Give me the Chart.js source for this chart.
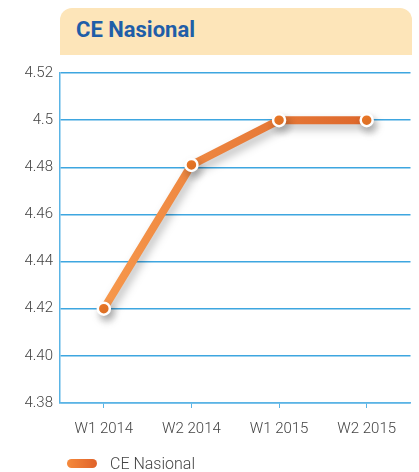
<!DOCTYPE html>
<html>
<head>
<meta charset="utf-8">
<script src="https://cdn.jsdelivr.net/npm/chart.js@4/dist/chart.umd.min.js"></script>
<style>
  body { margin: 0; background: #fff; font-family: Roboto, sans-serif; }
  .wrap { position: relative; width: 419px; height: 472px; }
  .title-box {
    position: absolute; left: 60px; top: 8px; width: 352px; height: 47px;
    background: #fde5b9; border-radius: 12px 12px 0 0;
  }
  .title-box span {
    position: absolute; left: 16px; top: 9px;
    font: bold 22px Roboto, sans-serif; color: #1f5ea8;
  }
  .legend { position: absolute; left: 67px; top: 453px; height: 20px; display: flex; align-items: center; }
  .legend .pill { width: 30px; height: 9px; border-radius: 5px; background: linear-gradient(90deg, #f58a3c, #e0622a); }
  .legend .txt { margin-left: 13px; font: 300 16px Roboto, sans-serif; color: #444; }
  canvas { position: absolute; left: 0; top: 0; }
</style>
</head>
<body>
<div class="wrap">
  <canvas id="ceChart" width="419" height="472"></canvas>
  <div class="title-box"><span>CE Nasional</span></div>
  <div class="legend"><div class="pill"></div><div class="txt">CE Nasional</div></div>
</div>
<script>
  const labels = ["W1 2014", "W2 2014", "W1 2015", "W2 2015"];
  const values = [4.42, 4.481, 4.5, 4.5];

  // soft shadow under the line
  const shadowPlugin = {
    id: "lineShadow",
    beforeDatasetDraw(chart) {
      const ctx = chart.ctx;
      ctx.save();
      ctx.shadowColor = "rgba(0,0,0,0.25)";
      ctx.shadowBlur = 8;
      ctx.shadowOffsetX = 3;
      ctx.shadowOffsetY = 5;
    },
    afterDatasetDraw(chart) {
      chart.ctx.restore();
    },
  };

  const ctx = document.getElementById("ceChart").getContext("2d");
  const grad = ctx.createLinearGradient(100, 0, 380, 0);
  grad.addColorStop(0, "#f7984c");
  grad.addColorStop(1, "#dc652a");

  new Chart(ctx, {
    type: "line",
    data: {
      labels: labels,
      datasets: [
        {
          label: "CE Nasional",
          data: values,
          borderColor: grad,
          borderWidth: 8,
          borderCapStyle: "round",
          tension: 0,
          pointRadius: 6,
          pointBackgroundColor: "#f07a28",
          pointBorderColor: "#ffffff",
          pointBorderWidth: 2.5,
        },
      ],
    },
    options: {
      responsive: false,
      animation: false,
      layout: { padding: { top: 73, right: 6, bottom: 22, left: 0 } },
      plugins: { legend: { display: false }, tooltip: { enabled: false } },
      scales: {
        y: {
          min: 4.38,
          max: 4.52,
          afterFit: (scale) => { scale.width = 60; },
          ticks: {
            stepSize: 0.02,
            color: "#444",
            font: { family: "Roboto", size: 15, weight: "300" },
            padding: 7,
            callback: (value) => {
              const s = value.toFixed(2);
              return s === "4.50" ? "4.5" : s;
            },
          },
          grid: { color: "#3ea6e0", lineWidth: 1.5, drawTicks: false },
          border: { color: "#5ab4e5", width: 1.5 },
        },
        x: {
          offset: true,
          ticks: { color: "#444", font: { family: "Roboto", size: 15, weight: "300" }, padding: 12 },
          grid: { drawOnChartArea: false, color: "#5ab4e5", tickLength: 5 },
          border: { color: "#5ab4e5", width: 1.5 },
        },
      },
    },
    plugins: [shadowPlugin],
  });
</script>
</body>
</html>
